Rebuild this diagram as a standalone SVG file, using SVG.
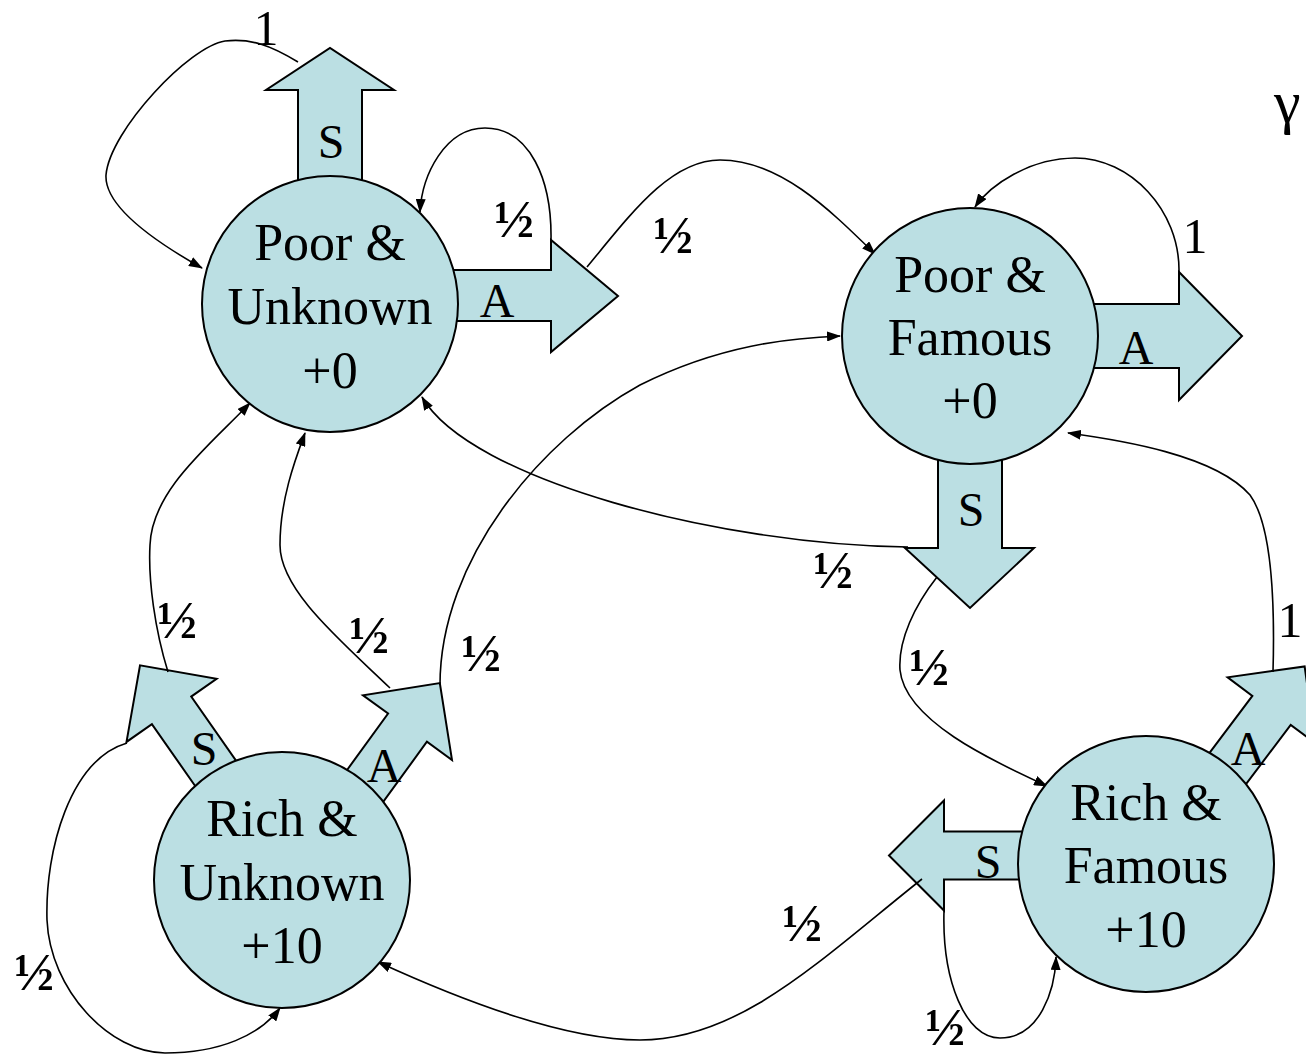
<svg xmlns="http://www.w3.org/2000/svg" width="1306" height="1056" viewBox="0 0 1306 1056">
<defs>
<marker id="ah" markerUnits="userSpaceOnUse" markerWidth="14" markerHeight="10" refX="13" refY="5" orient="auto">
<path d="M0,0 L14,5 L0,10 z" fill="#000"/>
</marker>
<polygon id="barrow" points="-24,10 -24,-74 -55,-74 0,-129 55,-74 24,-74 24,10"/>
</defs>
<style>
.node{fill:#BBDFE3;stroke:#000;stroke-width:2}
.blk{fill:#BBDFE3;stroke:#000;stroke-width:2;stroke-linejoin:miter}
.nt{font-family:"Liberation Serif","Times New Roman",serif;font-size:52px;text-anchor:middle;fill:#000}
.bt{font-family:"Liberation Serif","Times New Roman",serif;font-size:48px;text-anchor:middle;fill:#000}
.half{font-family:"Liberation Serif","Times New Roman",serif;font-size:53px;font-weight:bold;text-anchor:middle;fill:#000}
.one{font-family:"Liberation Serif","Times New Roman",serif;font-size:50px;text-anchor:middle;fill:#000}
.c{fill:none;stroke:#000;stroke-width:1.6;marker-end:url(#ah)}
</style>
<rect width="1306" height="1056" fill="#fff"/>

<g id="actions">
<polygon class="blk" points="298,182 298,90 266,90 330,48 394,90 362,90 362,182"/>
<polygon class="blk" points="450,270 551,270 551,240 618,296 551,352 551,321 450,321"/>
<polygon class="blk" points="1090,304 1179,304 1179,272 1242,336 1179,400 1179,368 1090,368"/>
<polygon class="blk" points="938,458 1002,458 1002,548 1034,548 970,608 905,548 938,548"/>
<use href="#barrow" class="blk" transform="translate(1018,855.5) rotate(-90)"/>
<use href="#barrow" class="blk" transform="translate(214,771) rotate(-35)"/>
<use href="#barrow" class="blk" transform="translate(364,787.5) rotate(36)"/>
<use href="#barrow" class="blk" transform="translate(1227,769.5) rotate(37)"/>
</g>

<g id="connectors">
<path class="c" d="M298,62 C270,45 250,38 225,41 C190,46 110,130 106,175 C104,210 170,250 202,268"/>
<path class="c" d="M551,240 C552,180 530,128 485,128 C445,128 422,175 420,212"/>
<path class="c" d="M587,267 C630,215 670,160 720,160 C780,160 830,210 875,254"/>
<path class="c" d="M1179,272 C1180,210 1130,158 1075,158 C1030,158 990,185 975,207"/>
<path class="c" d="M908,547 C720,545 470,480 422,397"/>
<path class="c" d="M937,577 C915,605 898,640 900,670 C905,720 990,760 1047,786"/>
<path class="c" d="M1273,672 C1275,600 1272,525 1250,495 C1215,455 1120,440 1068,433"/>
<path class="c" d="M944,911 C942,980 965,1038 1000,1038 C1040,1038 1055,990 1056,957"/>
<path class="c" d="M922,879 C820,960 740,1040 640,1040 C560,1040 450,995 378,962"/>
<path class="c" d="M127,743 C70,760 45,850 47,920 C50,990 110,1053 165,1053 C220,1053 260,1035 280,1008"/>
<path class="c" d="M168,672 C155,630 148,580 150,545 C152,490 210,445 250,403"/>
<path class="c" d="M390,688 C340,640 280,590 280,545 C280,500 295,460 305,433"/>
<path class="c" d="M440,685 C440,560 540,440 640,385 C720,345 790,338 840,336"/>
</g>

<g id="poor-unknown">
<circle class="node" cx="330" cy="304" r="128"/>
<text class="nt" x="330" y="260">Poor &amp;</text>
<text class="nt" x="330" y="324">Unknown</text>
<text class="nt" x="330" y="388">+0</text>
</g>
<g id="poor-famous">
<circle class="node" cx="970" cy="336" r="128"/>
<text class="nt" x="970" y="292">Poor &amp;</text>
<text class="nt" x="970" y="355">Famous</text>
<text class="nt" x="970" y="418">+0</text>
</g>
<g id="rich-unknown">
<circle class="node" cx="282" cy="880" r="128"/>
<text class="nt" x="282" y="836">Rich &amp;</text>
<text class="nt" x="282" y="900">Unknown</text>
<text class="nt" x="282" y="963">+10</text>
</g>
<g id="rich-famous">
<circle class="node" cx="1146" cy="864" r="128"/>
<text class="nt" x="1146" y="820">Rich &amp;</text>
<text class="nt" x="1146" y="883">Famous</text>
<text class="nt" x="1146" y="947">+10</text>
</g>

<g id="action-labels">
<text class="bt" x="331" y="158">S</text>
<text class="bt" x="497" y="317">A</text>
<text class="bt" x="1136" y="364">A</text>
<text class="bt" x="971" y="526">S</text>
<text class="bt" x="988" y="878">S</text>
<text class="bt" x="204" y="765">S</text>
<text class="bt" x="384" y="782">A</text>
<text class="bt" x="1248" y="765">A</text>
</g>

<g id="prob-labels">
<text class="one" x="266" y="45">1</text>
<text class="half" x="514" y="237">½</text>
<text class="half" x="673" y="253">½</text>
<text class="one" x="1195" y="253">1</text>
<text class="half" x="833" y="588">½</text>
<text class="half" x="929" y="685">½</text>
<text class="one" x="1290" y="637">1</text>
<text class="half" x="945" y="1045">½</text>
<text class="half" x="802" y="941">½</text>
<text class="half" x="34" y="990">½</text>
<text class="half" x="177" y="638">½</text>
<text class="half" x="369" y="653">½</text>
<text class="half" x="481" y="671">½</text>
</g>
<text class="one" x="1274" y="122" style="text-anchor:start;font-size:60px">γ</text>
</svg>
